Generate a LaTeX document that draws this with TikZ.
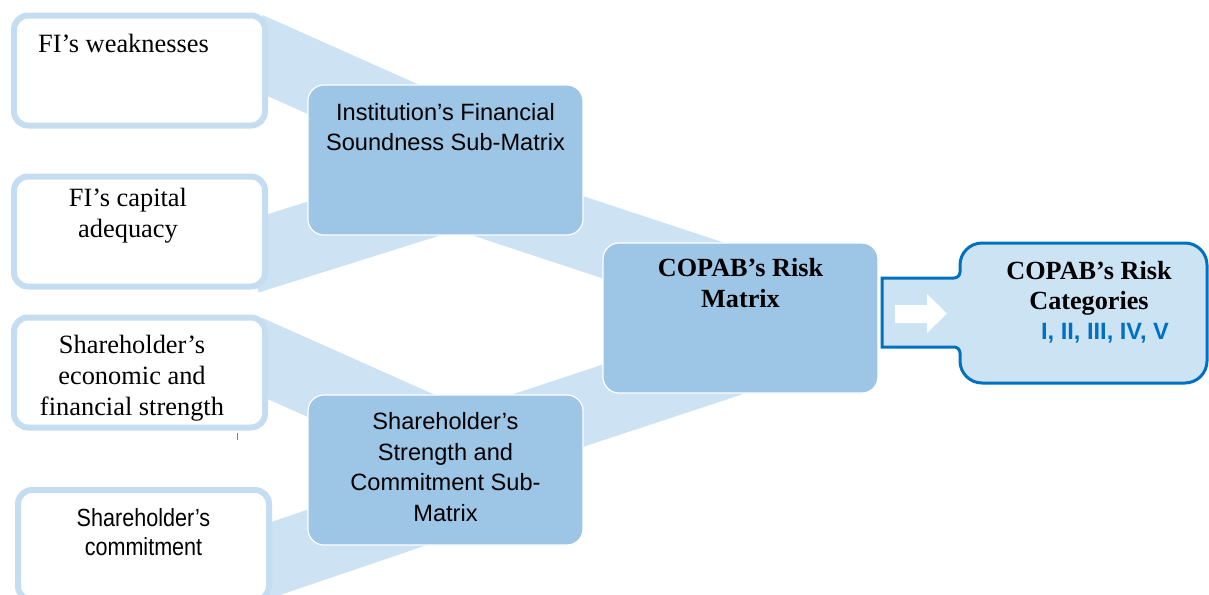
\documentclass[tikz,border=0pt]{standalone}
\usepackage{fontspec}
\setmainfont{Liberation Serif}
\setsansfont{Liberation Sans}
\newfontfamily\narrowsans[FakeStretch=0.87]{Liberation Sans}
\usepackage{tikz}
\usetikzlibrary{calc, positioning, backgrounds}

\definecolor{bandblue}{RGB}{205,226,243}
\definecolor{frameblue}{RGB}{197,221,241}
\definecolor{midblue}{RGB}{157,197,230}
\definecolor{catfill}{RGB}{204,227,244}
\definecolor{catline}{RGB}{0,112,192}

\begin{document}
\begin{tikzpicture}[x=0.5pt, y=-0.5pt,
    % Styles
    band/.style={draw=bandblue, line width=36pt},
    inputbox/.style={draw=frameblue, line width=3pt, fill=white, rounded corners=7pt,
                     minimum width=125.5pt, minimum height=55pt, inner sep=0pt},
    matrixbox/.style={draw=white, line width=0.6pt, fill=midblue, rounded corners=8pt,
                      minimum width=137.5pt, minimum height=75pt, inner sep=0pt},
    serifnote/.style={font=\fontsize{13.2}{15.5}\selectfont, align=center, inner sep=0pt},
    sansnote/.style={font=\sffamily\fontsize{11.8}{15.3}\selectfont, align=center, inner sep=0pt},
    boldnote/.style={font=\bfseries\fontsize{13.1}{15.2}\selectfont, align=center, inner sep=0pt}
]
    \clip (0,0) rectangle (1209,594);

    % Input boxes (left column)
    \node[inputbox] (fiweak) at (139.5,70.5) {};
    \node[inputbox] (ficap) at (139.5,231.5) {};
    \node[inputbox] (shstrength) at (139.5,372.5) {};
    \node[inputbox] (shcommit) at (143.5,545) {};

    \node[serifnote] (fiweaktxt) at ($(fiweak)+(-16,-27.5)$) {FI’s weaknesses};
    \node[serifnote] (ficaptxt) at ($(ficap)+(-11.5,-15.5)$) {FI’s capital\\adequacy};
    \node[serifnote] (shstrengthtxt) at ($(shstrength)+(-7.5,5.5)$) {Shareholder’s\\economic and\\financial strength};
    \node[sansnote, font=\narrowsans\fontsize{12.4}{14.5}\selectfont] (shcommittxt) at ($(shcommit)+(0,-12.5)$) {Shareholder’s\\commitment};
    \draw[gray] (237,433) -- (237,440);

    % Sub-matrices and risk matrix
    \node[matrixbox] (subfin) at (445.5,160) {};
    \node[matrixbox] (subsh) at (445.5,470) {};
    \node[matrixbox] (copab) at (740.5,318) {};

    \node[sansnote] (subfintxt) at ($(subfin)+(0,-33)$) {Institution’s Financial\\Soundness Sub-Matrix};
    \node[sansnote] (subshtxt) at ($(subsh)+(0,-3)$) {Shareholder’s\\Strength and\\Commitment Sub-\\Matrix};
    \node[boldnote] (copabtxt) at ($(copab)+(0,-35)$) {COPAB’s Risk\\Matrix};

    % Bands between the boxes
    \begin{scope}[on background layer]
        \draw[band] ($(fiweak.east)+(-20,-22.6)$) -- ($(subfin)+(0,-24)$);
        \draw[band] ($(ficap.east)+(-20,26.6)$) -- ($(subfin)+(0,36)$);
        \draw[band] ($(shstrength.east)+(-20,-21.6)$) -- ($(subsh)+(0,-31)$);
        \draw[band] ($(shcommit.east)+(-19,21.2)$) -- ($(subsh)+(0,30.7)$);
        \draw[band] ($(subfin)+(0,28.6)$) -- ($(copab)+(0,-32)$);
        \draw[band] ($(subsh)+(0,-15.6)$) -- ($(copab)+(0,39)$);
    \end{scope}

    % Risk categories box with its tab
    \draw[fill=catfill, draw=catline, line width=1.5pt]
        (882,278) -- (954,278) .. controls (957.3,278) and (960,275.3) .. (960,272)
        -- (960,265) .. controls (960,252.9) and (969.9,243) .. (982,243)
        -- (1185,243) .. controls (1197.1,243) and (1207,252.9) .. (1207,265)
        -- (1207,361) .. controls (1207,373.1) and (1197.1,383) .. (1185,383)
        -- (982,383) .. controls (969.9,383) and (960,373.1) .. (960,361)
        -- (960,353) .. controls (960,349.7) and (957.3,347) .. (954,347)
        -- (882,347) -- cycle;
    \fill[white] (895,305) -- (927,305) -- (927,294) -- (947,313.5)
        -- (927,333) -- (927,323) -- (895,323) -- cycle;

    \node[boldnote] (riskcattxt) at (1089,288.5) {COPAB’s Risk\\Categories};
    \node[sansnote, font=\sffamily\bfseries\fontsize{11.8}{14}\selectfont, text=catline] (riskroman) at (1105,333) {I, II, III, IV, V};
\end{tikzpicture}
\end{document}
